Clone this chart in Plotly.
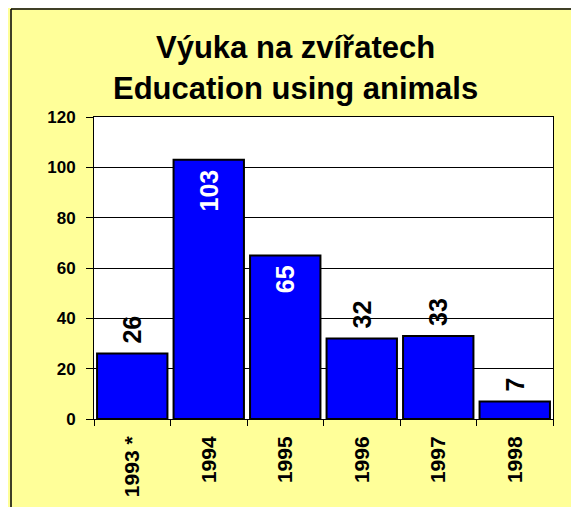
import plotly.graph_objects as go

categories = ["1993 *", "1994", "1995", "1996", "1997", "1998"]
values = [26, 103, 65, 32, 33, 7]
label_positions = ["outside", "inside", "inside", "outside", "outside", "outside"]
title_line1 = "Výuka na zvířatech"
title_line2 = "Education using animals"
y_ticks = [0, 20, 40, 60, 80, 100, 120]

FONT = "Liberation Sans, Arial, sans-serif"
W, H = 579, 507
OFF = 8  # page body margin
# plot area in screen pixels: x 94..553, y 117..419
L = 94 - OFF
T = 117 - OFF
PW, PH = 553 - 94, 419 - 117
R = W - L - PW
B = H - T - PH


def px_x(px):
    return (px - OFF - L) / PW


def px_y(py):
    return (T + PH - (py - OFF)) / PH


templates = ["\u00a0%{y}" if p == "outside" else "%{y}\u00a0" for p in label_positions]

fig = go.Figure(
    go.Bar(
        x=categories,
        y=values,
        marker=dict(color="#0000FF", line=dict(color="black", width=2)),
        texttemplate=templates,
        textposition=label_positions,
        textangle=-90,
        insidetextanchor="end",
        constraintext="none",
        cliponaxis=False,
        insidetextfont=dict(family=FONT, size=25, color="white", weight="bold"),
        outsidetextfont=dict(family=FONT, size=25, color="black", weight="bold"),
        hoverinfo="skip",
    )
)

fig.update_layout(
    width=W,
    height=H,
    margin=dict(l=L, r=R, t=T, b=B, pad=0),
    paper_bgcolor="#FFFF99",
    plot_bgcolor="white",
    bargap=0.08,
    showlegend=False,
    font=dict(family=FONT, color="black"),
)

fig.update_xaxes(
    type="category",
    showline=True,
    linecolor="black",
    linewidth=1,
    mirror=True,
    ticks="outside",
    ticklen=6,
    tickcolor="black",
    tickson="boundaries",
    tickangle=-90,
    ticklabelstandoff=8,
    tickfont=dict(family=FONT, size=21, color="black", weight="bold"),
    showgrid=False,
)

fig.update_yaxes(
    range=[0, 120],
    tickvals=y_ticks,
    showline=True,
    linecolor="black",
    linewidth=1,
    mirror=True,
    ticks="outside",
    ticklen=7,
    tickcolor="black",
    ticklabelstandoff=7,
    tickfont=dict(family=FONT, size=17, color="black", weight="bold"),
    showgrid=True,
    gridcolor="black",
    gridwidth=1,
    zeroline=False,
)

# outer frame: black border on left and top (outside is the white page)
bx, by = px_x(11), px_y(9)
fig.add_shape(type="line", xref="paper", yref="paper", x0=bx, x1=2, y0=by, y1=by,
              line=dict(color="black", width=1.5), layer="above")
fig.add_shape(type="line", xref="paper", yref="paper", x0=bx, x1=bx, y0=-1, y1=by,
              line=dict(color="black", width=1.5), layer="above")

for text, py in [(title_line1, 47.3), (title_line2, 88.3)]:
    fig.add_annotation(
        text=text, xref="paper", yref="paper", x=px_x(295.5), y=px_y(py),
        xanchor="center", yanchor="middle", showarrow=False,
        font=dict(family=FONT, size=31, color="black", weight="bold"),
    )

fig.write_html("out.html")
